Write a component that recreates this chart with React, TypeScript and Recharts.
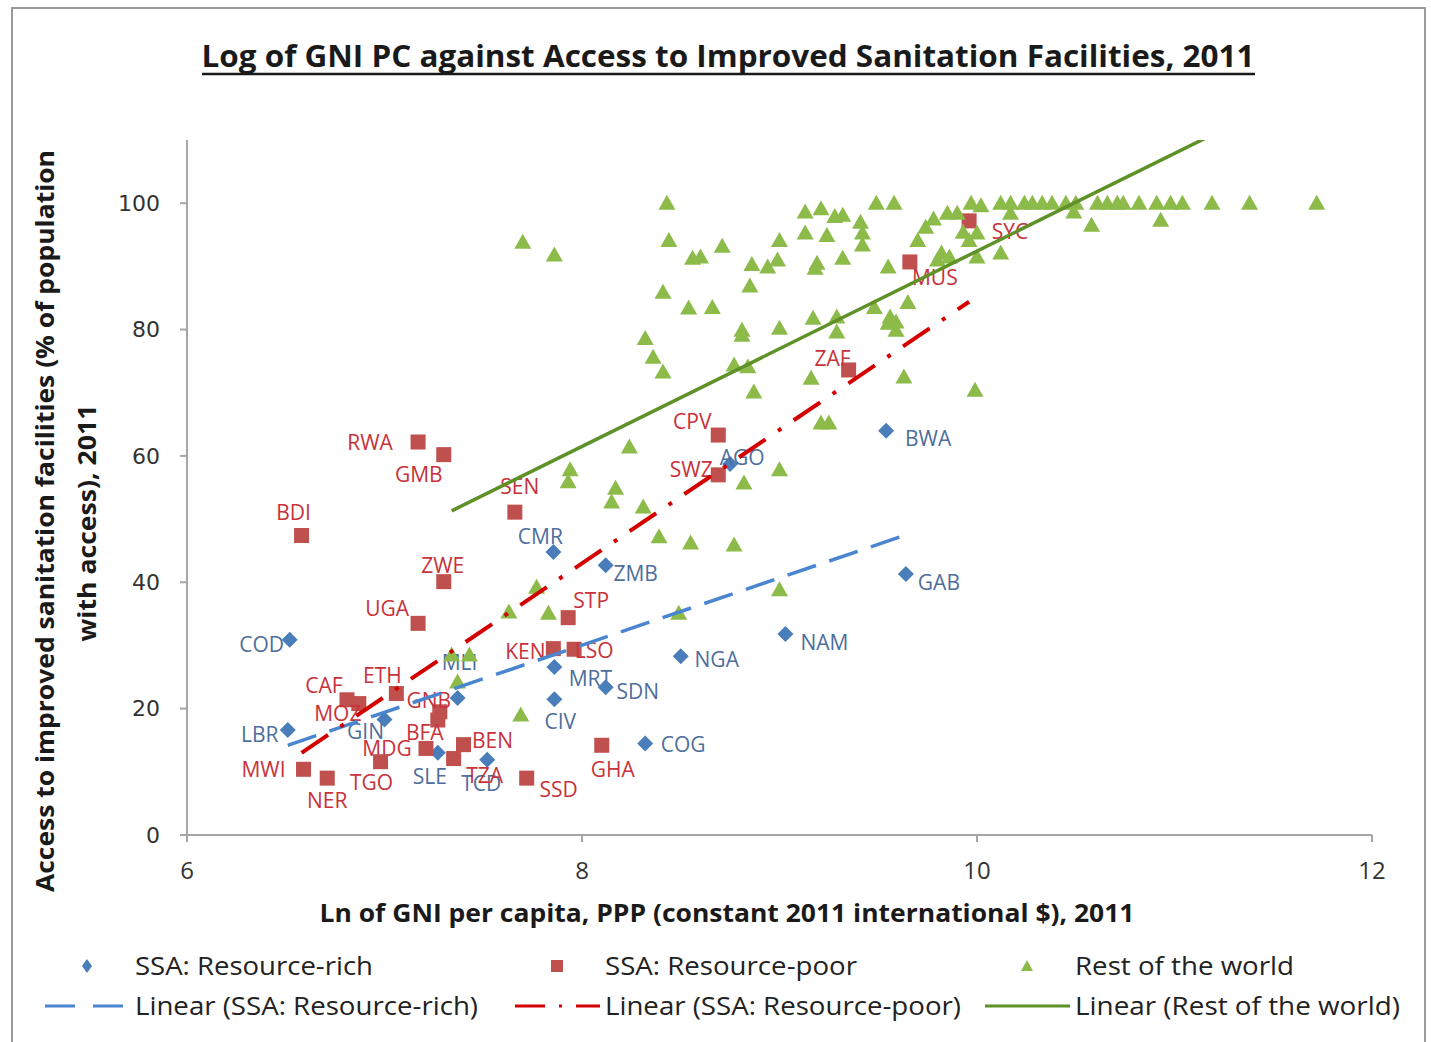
import { ScatterChart, Scatter, XAxis, YAxis } from 'recharts'

// SSA resource-rich countries
const richCodes = ['COD', 'LBR', 'GIN', 'MLI', 'SLE', 'TCD', 'CMR', 'MRT', 'CIV', 'ZMB', 'SDN', 'NGA', 'COG', 'AGO', 'NAM', 'BWA', 'GAB']
const richGni = [6.52, 6.51, 7.0, 7.37, 7.27, 7.52, 7.855, 7.86, 7.86, 8.12, 8.12, 8.5, 8.32, 8.75, 9.03, 9.54, 9.64]
const richSan = [30.9, 16.6, 18.3, 21.7, 13.0, 11.9, 44.8, 26.6, 21.5, 42.7, 23.4, 28.3, 14.5, 58.7, 31.8, 64.0, 41.3]

// SSA resource-poor countries
const poorCodes = ['BDI', 'RWA', 'GMB', 'SEN', 'ZWE', 'UGA', 'ETH', 'CAF', 'MOZ', 'GNB', 'BFA', 'MDG', 'TGO', 'MWI', 'NER', 'BEN', 'TZA', 'SSD', 'KEN', 'LSO', 'STP', 'GHA', 'CPV', 'SWZ', 'ZAF', 'MUS', 'SYC']
const poorGni = [6.58, 7.17, 7.3, 7.66, 7.3, 7.17, 7.06, 6.81, 6.87, 7.28, 7.27, 7.21, 6.98, 6.59, 6.71, 7.4, 7.35, 7.72, 7.855, 7.96, 7.93, 8.1, 8.69, 8.69, 9.35, 9.66, 9.96]
const poorSan = [47.4, 62.2, 60.2, 51.1, 40.1, 33.5, 22.4, 21.4, 20.8, 19.5, 18.2, 13.7, 11.6, 10.4, 9.0, 14.3, 12.1, 9.0, 29.5, 29.4, 34.4, 14.2, 63.3, 57.0, 73.6, 90.7, 97.2]

// Rest of the world
const rowGni = [
  8.43, 7.7, 7.86, 8.44, 8.56, 8.6, 8.71, 8.86, 8.85, 8.41, 8.54, 8.66, 8.81, 8.81, 8.32, 8.36, 8.41, 8.77, 8.84, 8.87,
  9.13, 9.21, 9.28, 9.32, 9.41, 9.49, 9.58, 9.0, 9.13, 9.24, 9.42, 9.42, 8.94, 8.99, 9.19, 9.18, 9.32, 9.55,
  9.78, 9.74, 9.7, 9.85, 9.9, 9.97, 10.02, 9.96, 9.93, 10.0, 9.82, 9.86, 9.8, 10.0, 10.12,
  9.65, 9.48, 9.29, 9.17, 9.0, 9.29, 9.55, 9.59, 9.59, 9.56, 9.16, 9.63, 9.99,
  10.12, 10.17, 10.24, 10.28, 10.33, 10.38, 10.45, 10.5, 10.61, 10.66, 10.71, 10.74, 10.82, 10.91, 10.98, 11.04, 11.19, 11.38, 11.72,
  10.17, 10.49, 10.58, 10.93,
  8.24, 7.94, 7.93, 8.17, 8.15, 8.31, 8.39, 8.55, 8.77, 9.0, 8.82, 7.77, 7.63, 7.83, 8.49, 9.0,
  7.34, 7.43, 7.37, 7.69, 9.21, 9.25,
]
const rowSan = [
  100, 93.8, 91.8, 94.1, 91.3, 91.5, 93.2, 90.3, 86.9, 85.9, 83.4, 83.5, 79.9, 79.1, 78.6, 75.6, 73.3, 74.4, 74.1, 70.1,
  98.6, 99.1, 97.9, 98.1, 97.0, 100, 100, 94.1, 95.3, 94.9, 95.3, 93.4, 89.9, 91.0, 90.5, 89.7, 91.3, 89.9,
  97.5, 96.2, 94.1, 98.4, 98.4, 100, 99.6, 94.1, 95.4, 95.3, 92.1, 91.5, 91.0, 91.5, 92.1,
  84.3, 83.5, 82.0, 81.8, 80.2, 79.6, 81.0, 81.2, 79.9, 82.0, 72.3, 72.5, 70.4,
  100, 100, 100, 100, 100, 100, 100, 100, 100, 100, 100, 100, 100, 100, 100, 100, 100, 100, 100,
  98.4, 98.6, 96.5, 97.3,
  61.4, 57.8, 55.9, 54.9, 52.7, 51.9, 47.2, 46.2, 45.9, 57.8, 55.7, 39.2, 35.3, 35.1, 35.1, 38.8,
  28.5, 28.5, 24.2, 19.0, 65.2, 65.2,
]

// linear trend endpoints
const richTrendGni = [6.51, 9.64]
const richTrendSan = [14.2, 47.5]
const poorTrendGni = [6.58, 9.96]
const poorTrendSan = [13.0, 84.4]
const rowTrendGni = [7.34, 11.72]
const rowTrendSan = [51.3, 119.0]

const xTicks = [6, 8, 10, 12]
const yTicks = [0, 20, 40, 60, 80, 100]

// label placement relative to marker (px)
const LABEL_OFFSETS: Record<string, [number, number]> = {
  COD: [-28, 5], LBR: [-28, 5], GIN: [-19, 13], MLI: [2, -35], SLE: [-8, 24], TCD: [-6, 24],
  CMR: [-13, -15], MRT: [36, 12], CIV: [6, 23], ZMB: [30, 9], SDN: [32, 5], NGA: [36, 4],
  COG: [38, 2], AGO: [12, -6], NAM: [39, 9], BWA: [42, 8], GAB: [33, 9],
  BDI: [-8, -23], RWA: [-48, 1], GMB: [-25, 20], SEN: [5, -25], ZWE: [-1, -16], UGA: [-31, -14],
  ETH: [-14, -17], CAF: [-23, -14], MOZ: [-21, 10], GNB: [-11, -11], BFA: [-13, 13], MDG: [-39, 1],
  TGO: [-9, 21], MWI: [-40, 1], NER: [0, 23], BEN: [29, -4], TZA: [31, 17], SSD: [32, 12],
  KEN: [-28, 3], LSO: [20, 2], STP: [23, -17], GHA: [11, 25], CPV: [-26, -13], SWZ: [-27, -5],
  ZAF: [-16, -11], MUS: [25, 16], SYC: [41, 11],
}

const BLUE = '#4a7ebb'
const BLUE_TEXT = '#4e6e9c'
const RED = '#c0504d'
const RED_TEXT = '#c8323b'
const GREEN = '#8cbb4a'
const LINE_BLUE = '#4a86d0'
const LINE_RED = '#d40000'
const LINE_GREEN = '#5f9128'
const FONT = '"Open Sans", sans-serif'

const zip = (codes: string[], gni: number[], san: number[]) =>
  gni.map((g, i) => ({ code: codes[i], gni: g, san: san[i] }))

const richData = zip(richCodes, richGni, richSan)
const poorData = zip(poorCodes, poorGni, poorSan)
const rowData = rowGni.map((g, i) => ({ gni: g, san: rowSan[i] }))
const richTrend = zip([], richTrendGni, richTrendSan)
const poorTrend = zip([], poorTrendGni, poorTrendSan)
const rowTrend = zip([], rowTrendGni, rowTrendSan)

function PointLabel({ cx, cy, code, color }: { cx: number; cy: number; code: string; color: string }) {
  const off = LABEL_OFFSETS[code] ?? [0, 0]
  return (
    <text x={cx + off[0]} y={cy + off[1] + 7} textAnchor='middle' fontFamily={FONT} fontSize={21} fill={color}>
      {code}
    </text>
  )
}

function DiamondShape(props: any) {
  const { cx, cy, payload } = props
  return (
    <g>
      <path d={`M${cx},${cy - 8}L${cx + 8},${cy}L${cx},${cy + 8}L${cx - 8},${cy}Z`} fill={BLUE} />
      <PointLabel cx={cx} cy={cy} code={payload.code} color={BLUE_TEXT} />
    </g>
  )
}

function SquareShape(props: any) {
  const { cx, cy, payload } = props
  return (
    <g>
      <rect x={cx - 7.5} y={cy - 7.5} width={15} height={15} fill={RED} />
      <PointLabel cx={cx} cy={cy} code={payload.code} color={RED_TEXT} />
    </g>
  )
}

function TriangleShape(props: any) {
  const { cx, cy } = props
  return <path d={`M${cx},${cy - 8.5}L${cx + 8.5},${cy + 6.5}L${cx - 8.5},${cy + 6.5}Z`} fill={GREEN} />
}

const NoShape = () => <g />

function Overlay() {
  const legendText = { fontFamily: FONT, fontSize: 25, fill: '#222' }
  return (
    <svg width={1431} height={1042} style={{ position: 'absolute', left: 0, top: 0, pointerEvents: 'none' }}>
      <rect x={12} y={8} width={1413} height={1100} fill='none' stroke='#9a9a9a' strokeWidth={2} />
      <text x={728} y={67} textAnchor='middle' fontFamily={FONT} fontWeight={700} fontSize={30} fill='#1a1a1a'
        textLength={1053} lengthAdjust='spacingAndGlyphs'>
        Log of GNI PC against Access to Improved Sanitation Facilities, 2011
      </text>
      <line x1={202} x2={1255} y1={74} y2={74} stroke='#1a1a1a' strokeWidth={2.5} />

      <g transform='translate(54,521) rotate(-90)'>
        <text x={0} y={0} textAnchor='middle' fontFamily={FONT} fontWeight={700} fontSize={25} fill='#1a1a1a'
          textLength={742} lengthAdjust='spacingAndGlyphs'>
          Access to improved sanitation facilities (% of population
        </text>
      </g>
      <g transform='translate(96,523) rotate(-90)'>
        <text x={0} y={0} textAnchor='middle' fontFamily={FONT} fontWeight={700} fontSize={25} fill='#1a1a1a'
          textLength={237} lengthAdjust='spacingAndGlyphs'>
          with access), 2011
        </text>
      </g>
      <text x={727} y={922} textAnchor='middle' fontFamily={FONT} fontWeight={700} fontSize={25} fill='#1a1a1a'
        textLength={815} lengthAdjust='spacingAndGlyphs'>
        Ln of GNI per capita, PPP (constant 2011 international $), 2011
      </text>

      {/* legend row 1 */}
      <path d='M87,959L92,966L87,973L82,966Z' fill={BLUE} />
      <text x={135} y={975} {...legendText} textLength={238} lengthAdjust='spacingAndGlyphs'>SSA: Resource-rich</text>
      <rect x={551} y={960} width={12} height={12} fill={RED} />
      <text x={605} y={975} {...legendText} textLength={252} lengthAdjust='spacingAndGlyphs'>SSA: Resource-poor</text>
      <path d='M1027,960L1033,971L1021,971Z' fill={GREEN} />
      <text x={1075} y={975} {...legendText} textLength={219} lengthAdjust='spacingAndGlyphs'>Rest of the world</text>

      {/* legend row 2 */}
      <line x1={45} x2={130} y1={1006} y2={1006} stroke={LINE_BLUE} strokeWidth={3} strokeDasharray='30 18' />
      <text x={135} y={1015} {...legendText} textLength={343} lengthAdjust='spacingAndGlyphs'>Linear (SSA: Resource-rich)</text>
      <line x1={515} x2={600} y1={1006} y2={1006} stroke={LINE_RED} strokeWidth={3} strokeDasharray='30 14 3 14' />
      <text x={605} y={1015} {...legendText} textLength={356} lengthAdjust='spacingAndGlyphs'>Linear (SSA: Resource-poor)</text>
      <line x1={985} x2={1070} y1={1006} y2={1006} stroke={LINE_GREEN} strokeWidth={3} />
      <text x={1075} y={1015} {...legendText} textLength={325} lengthAdjust='spacingAndGlyphs'>Linear (Rest of the world)</text>
    </svg>
  )
}

export default function App() {
  return (
    <div style={{ position: 'absolute', left: 0, top: 0, width: 1431, height: 1042, background: '#fff' }}>
      <ScatterChart width={1431} height={1042} margin={{ top: 140, right: 59, bottom: 167, left: 0 }}>
        <XAxis
          type='number'
          dataKey='gni'
          domain={[6, 12]}
          ticks={xTicks}
          height={40}
          tickSize={7}
          tickMargin={20}
          stroke='#a6a6a6'
          strokeWidth={2}
          tick={{ fill: '#333', fontSize: 24, fontFamily: FONT }}
        />
        <YAxis
          type='number'
          dataKey='san'
          domain={[0, 110]}
          ticks={yTicks}
          allowDataOverflow
          width={187}
          tickSize={7}
          tickMargin={20}
          stroke='#a6a6a6'
          strokeWidth={2}
          tick={{ fill: '#333', fontSize: 22, fontFamily: '"DejaVu Sans", sans-serif' }}
        />
        <Scatter name='SSA: Resource-rich' data={richData} shape={DiamondShape} isAnimationActive={false} />
        <Scatter name='SSA: Resource-poor' data={poorData} shape={SquareShape} isAnimationActive={false} />
        <Scatter name='Rest of the world' data={rowData} shape={TriangleShape} isAnimationActive={false} />
        <Scatter name='Linear (SSA: Resource-rich)' data={richTrend} shape={NoShape} isAnimationActive={false}
          line={{ stroke: LINE_BLUE, strokeWidth: 3.5, strokeDasharray: '30 14' }} />
        <Scatter name='Linear (SSA: Resource-poor)' data={poorTrend} shape={NoShape} isAnimationActive={false}
          line={{ stroke: LINE_RED, strokeWidth: 4, strokeDasharray: '32 15 4 15' }} />
        <Scatter name='Linear (Rest of the world)' data={rowTrend} shape={NoShape} isAnimationActive={false}
          line={{ stroke: LINE_GREEN, strokeWidth: 3.5 }} />
      </ScatterChart>
      <Overlay />
    </div>
  )
}
